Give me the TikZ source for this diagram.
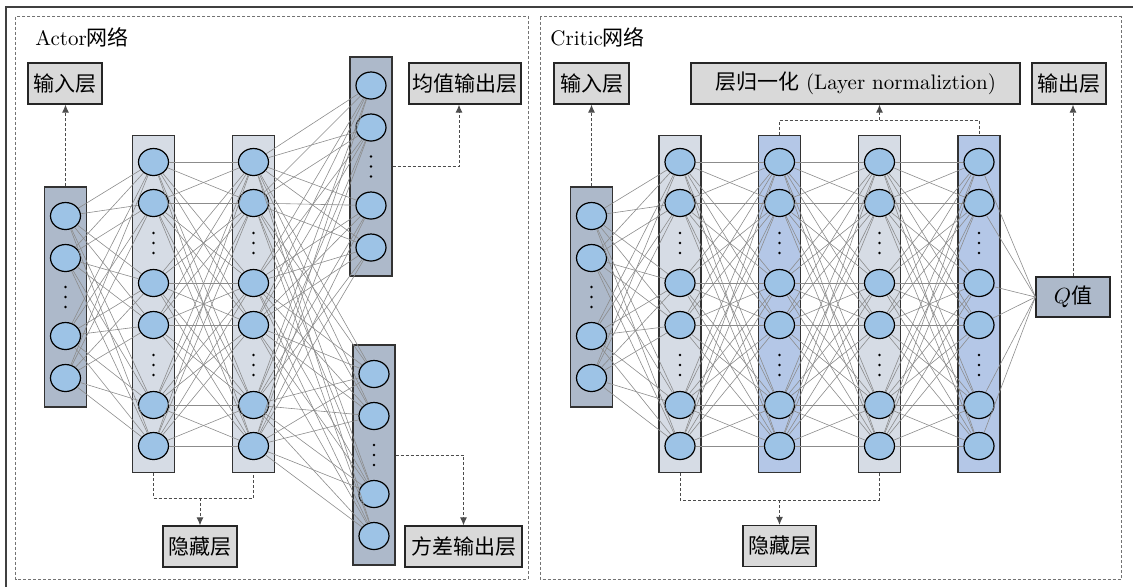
\documentclass[tikz,border=0pt]{standalone}
\usepackage{amsmath}
\usepackage{fontspec}
\usepackage{tikz}
\usetikzlibrary{shapes.geometric,arrows.meta}
\newfontfamily\zhfont{Noto Sans CJK SC}
\definecolor{cellblue}{HTML}{9DC3E6}
\definecolor{slate}{HTML}{ADB9CA}
\definecolor{pale}{HTML}{D6DCE5}
\definecolor{lightblue}{HTML}{B4C7E7}
\definecolor{tag}{HTML}{D9D9D9}

\begin{document}
\begin{tikzpicture}[x=0.5pt,y=-0.5pt,font=\fontsize{10.5}{12.6}\selectfont,
  neuron/.style={ellipse,draw=black,line width=0.6pt,fill=cellblue,minimum width=15pt,minimum height=13.5pt,inner sep=0pt},
  layer/.style={draw=black!80,line width=0.7pt,minimum width=21pt,inner sep=0pt},
  tagbox/.style={draw=black!85,fill=tag,line width=0.6pt,minimum height=20.5pt,inner sep=1pt},
  link/.style={black!45,line width=0.3pt},
  guide/.style={black!70,line width=0.5pt,dash pattern=on 1.5pt off 1pt},
  into/.style={-{Latex[length=4pt,width=3.5pt]}}]

  \useasboundingbox (0,0) rectangle (1133,586);
  \draw[black!75,line width=1pt] (5.5,7) rectangle (1150,600);
  \draw[guide,black!55] (15.5,16.5) rectangle (528,579);
  \draw[guide,black!55] (540,16.5) rectangle (1121,579);

  \node[anchor=west,inner sep=0pt] (atitle) at (35,37) {Actor{\zhfont 网络}};
  \node[anchor=west,inner sep=0pt] (ctitle) at (550,37) {Critic{\zhfont 网络}};

  % actor layers
  \node[layer,fill=slate,minimum height=110pt] (ain) at (65.5,297) {};
  \node[layer,fill=pale,minimum height=168.5pt] (ah1) at (153.5,304) {};
  \node[layer,fill=pale,minimum height=168.5pt] (ah2) at (253.5,304) {};
  \node[layer,fill=slate,minimum height=109.5pt] (amu) at (371,166.5) {};
  \node[layer,fill=slate,minimum height=110pt] (asig) at (374,455) {};

  % critic layers
  \node[layer,fill=slate,minimum height=110pt] (cin) at (591.5,297) {};
  \node[layer,fill=pale,minimum height=168.5pt] (ch1) at (680,304) {};
  \node[layer,fill=lightblue,minimum height=168.5pt] (ch2) at (779.5,304) {};
  \node[layer,fill=pale,minimum height=168.5pt] (ch3) at (879.5,304) {};
  \node[layer,fill=lightblue,minimum height=168.5pt] (ch4) at (979,304) {};

  % neurons
  \foreach \c/\x/\y in {ain/65.5/297,amu/371/166.5,asig/374/455,cin/591.5/297}{
    \foreach \n/\dy in {1/-81,2/-39,3/39,4/81}
      \node[neuron] (\c-\n) at ({\x},{\y+(\dy)}) {};
    \foreach \dy in {-10,0,10}
      \fill ({\x},{\y+(\dy)}) circle (0.7pt);
  }
  \foreach \c/\x in {ah1/153.5,ah2/253.5,ch1/680,ch2/779.5,ch3/879.5,ch4/979}{
    \foreach \n/\dy in {1/-142,2/-101,3/-21,4/21,5/101,6/142}
      \node[neuron] (\c-\n) at ({\x},{304+(\dy)}) {};
    \foreach \dy in {-71,-61,-51,51,61,71}
      \fill ({\x},{304+(\dy)}) circle (0.7pt);
  }

  % boxes
  \node[tagbox,minimum width=37pt] (inA) at (65,83.5) {\zhfont 输入层};
  \node[tagbox,minimum width=56pt] (mubox) at (465,83.5) {\zhfont 均值输出层};
  \node[tagbox,minimum width=58.5pt] (sigbox) at (463.5,546.5) {\zhfont 方差输出层};
  \node[tagbox,minimum width=37pt] (hidA) at (200,546.5) {\zhfont 隐藏层};
  \node[tagbox,minimum width=37.5pt] (inC) at (591.5,83.5) {\zhfont 输入层};
  \node[tagbox,minimum width=164.5pt] (lnbox) at (855.5,83.5) {{\zhfont 层归一化} (Layer normaliztion)};
  \node[tagbox,minimum width=37pt] (outC) at (1069,83.5) {\zhfont 输出层};
  \node[tagbox,minimum width=36.5pt] (hidC) at (779.5,546) {\zhfont 隐藏层};
  \node[tagbox,fill=slate,minimum width=37pt,minimum height=20pt] (qval) at (1073,297) {$Q${\zhfont 值}};

  % full connections
  \foreach \i in {1,...,4} \foreach \j in {1,...,6} {
    \draw[link] (ain-\i) -- (ah1-\j);
    \draw[link] (cin-\i) -- (ch1-\j);
  }
  \foreach \i in {1,...,6} \foreach \j in {1,...,6} {
    \draw[link] (ah1-\i) -- (ah2-\j);
    \draw[link] (ch1-\i) -- (ch2-\j);
    \draw[link] (ch2-\i) -- (ch3-\j);
    \draw[link] (ch3-\i) -- (ch4-\j);
  }
  \foreach \i in {1,...,6} {
    \foreach \j in {1,...,4} {
      \draw[link] (ah2-\i) -- (amu-\j);
      \draw[link] (ah2-\i) -- (asig-\j);
    }
    \draw[link] (ch4-\i) -- (qval.west);
  }

  % dashed guides
  \coordinate (ahmid) at (200,498);
  \coordinate (chmid) at (779.5,500);
  \coordinate (lnmid) at (879.5,120);

  \draw[guide,into] (ain.north) -- (ain.north |- inA.south);
  \draw[guide] (ah1.south) |- (ahmid) -| (ah2.south);
  \draw[guide,into] (ahmid) -- (hidA.north);
  \draw[guide,into] (amu.east) -| ([xshift=-3pt]mubox.south);
  \draw[guide,into] (asig.east) -| (sigbox.north);

  \draw[guide,into] (cin.north) -- (cin.north |- inC.south);
  \draw[guide] (ch1.south) |- (chmid) -| (ch3.south);
  \draw[guide,into] (chmid) -- (hidC.north);
  \draw[guide] (ch2.north) |- (lnmid) -| (ch4.north);
  \draw[guide,into] (lnmid) -- (lnmid |- lnbox.south);
  \draw[guide,into] (qval.north) -- (qval.north |- outC.south);

\end{tikzpicture}
\end{document}
